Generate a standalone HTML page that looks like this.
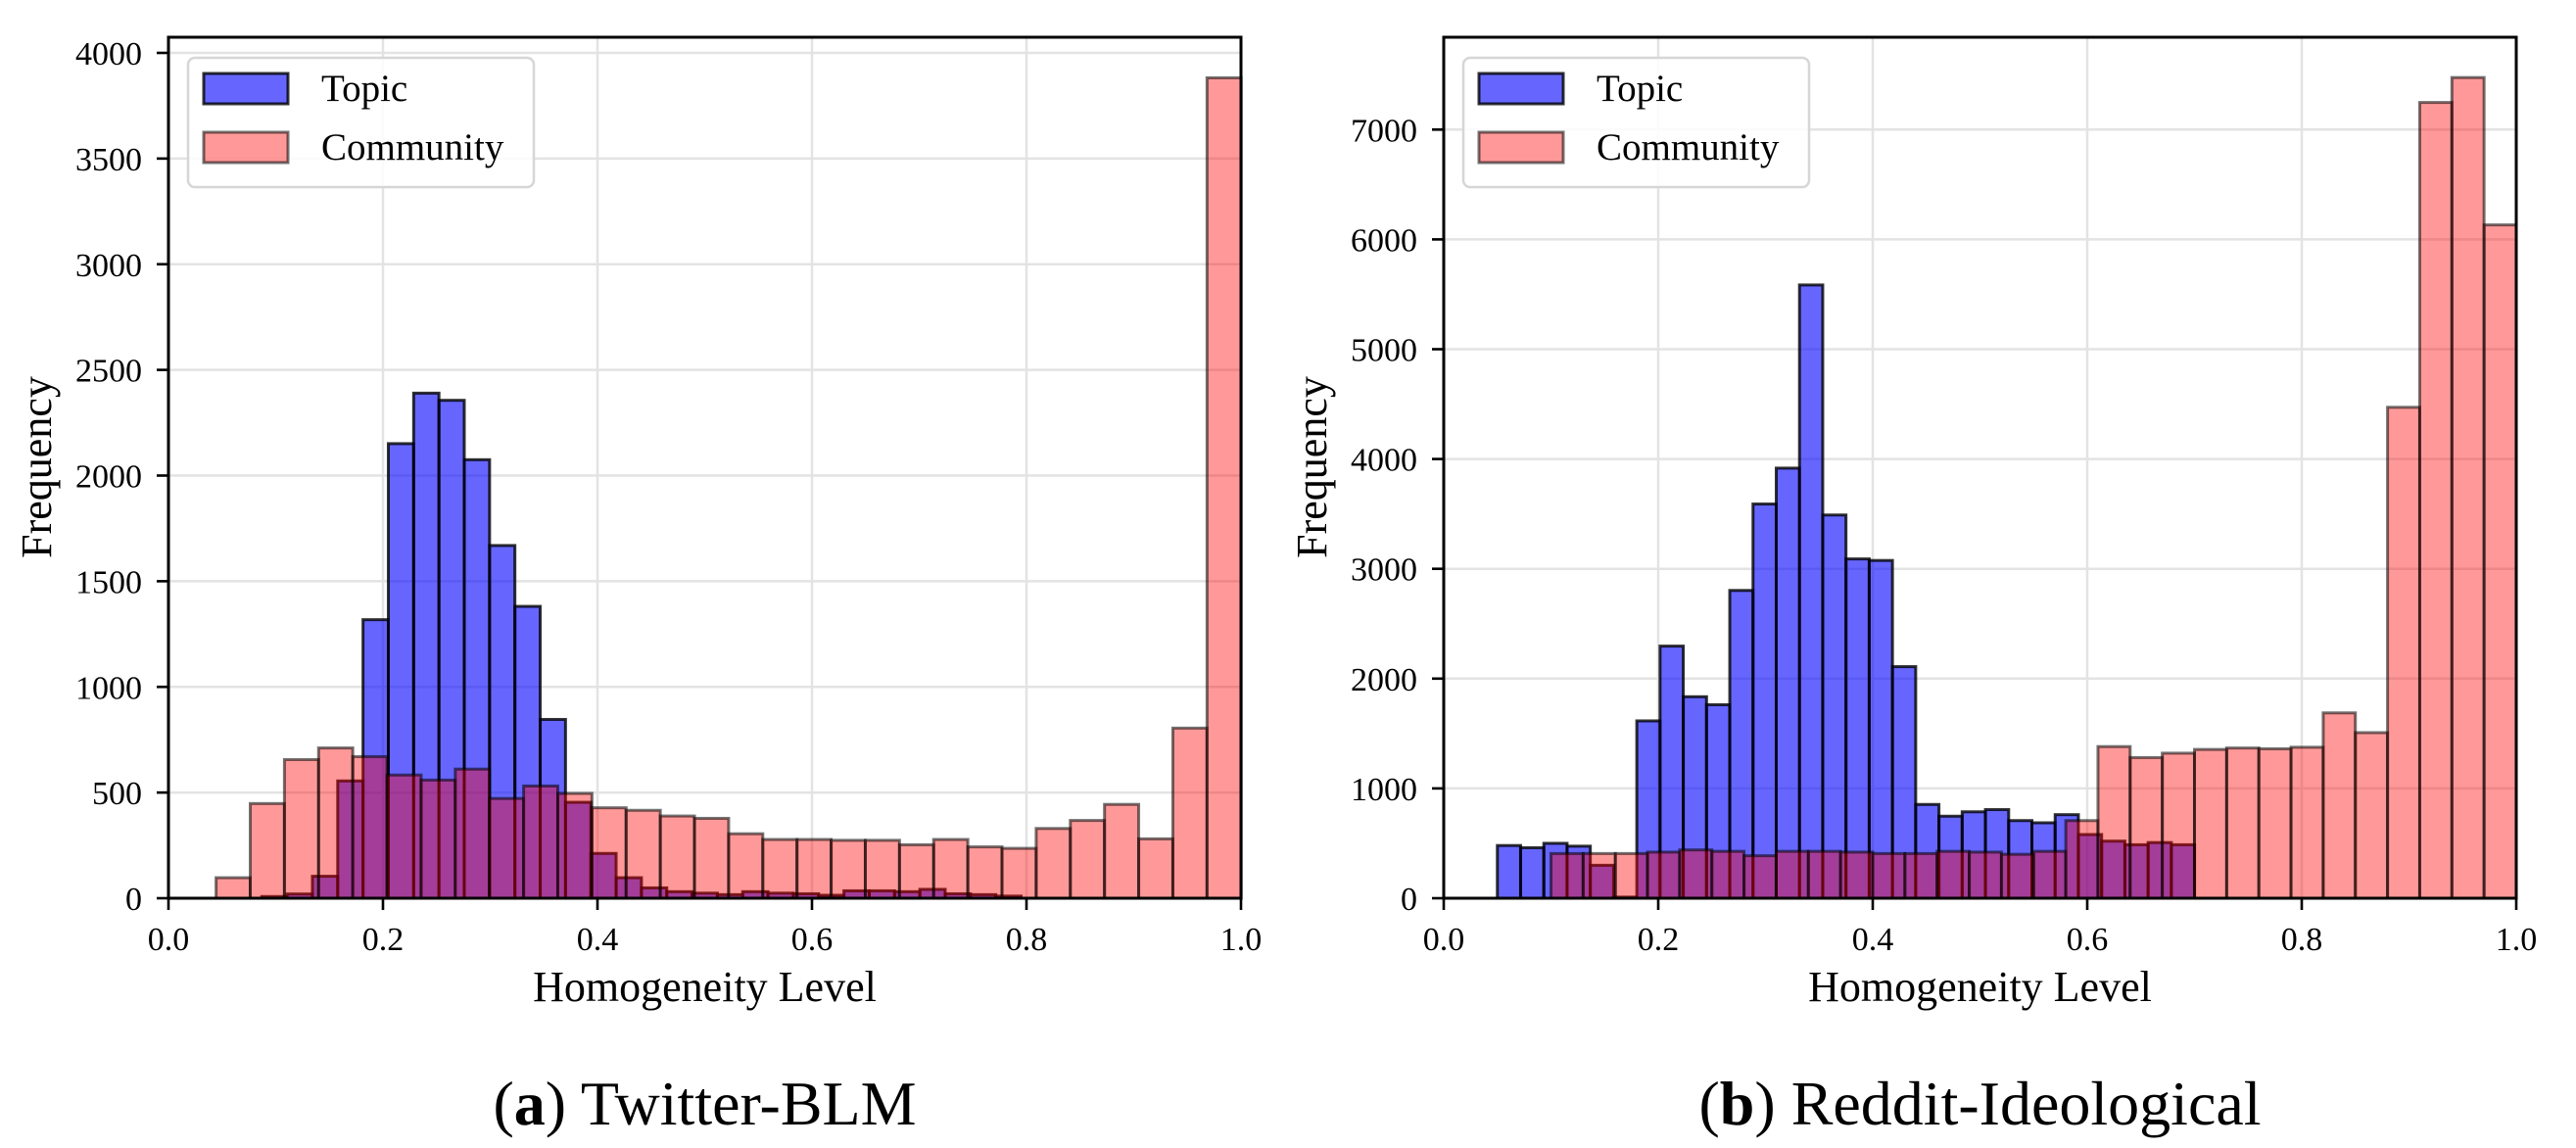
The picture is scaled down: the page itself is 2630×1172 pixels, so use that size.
<!DOCTYPE html>
<html><head><meta charset="utf-8"><style>
html,body{margin:0;padding:0;background:#fff;}
svg{display:block;font-family:"Liberation Serif",serif;}
</style></head><body>
<svg id="svg" width="2630" height="1172" viewBox="0 0 2630 1172" xmlns="http://www.w3.org/2000/svg">
</svg>
<script>
// ---- Panel (a) Twitter-BLM data ----
const blmTopicStart = 0.087;
const blmTopicWidth = 0.0236;
const blmTopic = [8,20,104,555,1318,2151,2390,2356,2075,1669,1381,846,454,212,97,49,31,24,17,31,24,21,14,35,35,31,42,21,17,10];
const blmCommStart = 0.0444;
const blmCommWidth = 0.03186;
const blmComm = [97,448,656,711,670,583,559,611,472,531,496,428,416,389,378,305,278,278,274,274,253,278,243,236,330,368,444,281,805,3882];
const blmYTicks = [0,500,1000,1500,2000,2500,3000,3500,4000];
// ---- Panel (b) Reddit-Ideological data ----
const redTopicStart = 0.05;
const redTopicWidth = 0.02167;
const redTopic = [480,460,500,474,300,10,1615,2296,1835,1762,2803,3590,3917,5585,3490,3090,3076,2109,854,747,787,807,707,687,761,580,520,487,507,487];
const redCommStart = 0.10;
const redCommWidth = 0.03;
const redComm = [407,407,407,420,440,427,387,427,427,420,407,407,427,420,400,427,707,1381,1281,1321,1355,1368,1361,1375,1688,1508,4471,7247,7474,6132];
const redYTicks = [0,1000,2000,3000,4000,5000,6000,7000];
const xTicks = [0,0.2,0.4,0.6,0.8,1.0];

const NS = "http://www.w3.org/2000/svg";
const svg = document.getElementById('svg');
function mk(tag, attrs, parent){
  const e = document.createElementNS(NS, tag);
  for (const k in attrs) e.setAttribute(k, attrs[k]);
  (parent||svg).appendChild(e);
  return e;
}

function panel(cfg){
  const g = mk('g', {});
  
  
  const L = cfg.left, R = cfg.left + 1095, T = 38, B = 917;
  const xs = v => L + v * (R - L);
  const ys = v => B - v * cfg.pxPer;
  xTicks.forEach(t => {
    const l = mk('line', {x1: xs(t), x2: xs(t), y1: T, y2: B, stroke: '#e3e3e3', 'stroke-width': 2.5}, g);
    
    
  });
  cfg.yTicks.forEach(t => {
    const l = mk('line', {x1: L, x2: R, y1: ys(t), y2: ys(t), stroke: '#e3e3e3', 'stroke-width': 2.5}, g);
    
    
  });
  cfg.topic.forEach((v, i) => {
    const x0 = cfg.tStart + i * cfg.tW;
    const r = mk('rect', {x: xs(x0), y: ys(v), width: xs(x0 + cfg.tW) - xs(x0), height: B - ys(v),
      fill: 'rgba(0,0,255,0.6)', stroke: 'rgba(0,0,0,0.8)', 'stroke-width': 3}, g);
    
    
  });
  cfg.comm.forEach((v, i) => {
    const x0 = cfg.cStart + i * cfg.cW;
    const r = mk('rect', {x: xs(x0), y: ys(v), width: xs(x0 + cfg.cW) - xs(x0), height: B - ys(v),
      fill: 'rgba(255,0,0,0.4)', stroke: 'rgba(0,0,0,0.55)', 'stroke-width': 3}, g);
    
    
  });
  const f = mk('rect', {x: L, y: T, width: R - L, height: B - T, fill: 'none', stroke: '#000', 'stroke-width': 3}, g);
  
  
  xTicks.forEach(t => {
    const l = mk('line', {x1: xs(t), x2: xs(t), y1: B, y2: B + 12, stroke: '#000', 'stroke-width': 2.6}, g);
    
    
    const tx = mk('text', {x: xs(t), y: B + 53, 'font-size': 34, 'text-anchor': 'middle', fill: '#000'}, g);
    
    
    tx.textContent = t.toFixed(1);
  });
  cfg.yTicks.forEach(t => {
    const l = mk('line', {x1: L - 12, x2: L, y1: ys(t), y2: ys(t), stroke: '#000', 'stroke-width': 2.6}, g);
    
    
    const tx = mk('text', {x: L - 27, y: ys(t) + 12, 'font-size': 34, 'text-anchor': 'end', fill: '#000'}, g);
    
    
    tx.textContent = String(t);
  });
  const xt = mk('text', {x: (L + R) / 2, y: 1022, 'font-size': 44, 'text-anchor': 'middle', fill: '#000'}, g);
  
  
  xt.textContent = 'Homogeneity Level';
  const yt = mk('text', {x: 0, y: 0, 'font-size': 44, 'text-anchor': 'middle', fill: '#000',
    transform: 'translate(' + (cfg.ylabX) + ',477) rotate(-90)'}, g);
  
  
  yt.textContent = 'Frequency';
  const lg = mk('g', {}, g);
  
  
  const lx = L + 20;
  mk('rect', {x: lx, y: 59, width: 353, height: 132, rx: 7, fill: 'rgba(255,255,255,0.85)', stroke: '#d6d6d6', 'stroke-width': 2.5}, lg);
  const p1 = mk('rect', {x: lx + 16, y: 75, width: 86, height: 31, fill: 'rgba(0,0,255,0.6)', stroke: 'rgba(0,0,0,0.8)', 'stroke-width': 3}, lg);
  
  
  const t1 = mk('text', {x: lx + 136, y: 103, 'font-size': 39, fill: '#000'}, lg);
  
  
  t1.textContent = 'Topic';
  const p2 = mk('rect', {x: lx + 16, y: 135, width: 86, height: 31, fill: 'rgba(255,0,0,0.4)', stroke: 'rgba(0,0,0,0.55)', 'stroke-width': 3}, lg);
  
  
  const t2 = mk('text', {x: lx + 136, y: 163, 'font-size': 39, fill: '#000'}, lg);
  
  
  t2.textContent = 'Community';
  const cp = mk('text', {x: (L + R) / 2, y: 1148, 'font-size': 64, 'text-anchor': 'middle', fill: '#000'}, g);
  
  
  cp.innerHTML = '(<tspan font-weight="bold">' + cfg.letter + '</tspan>) ' + cfg.caption;
}

panel({name: 'panel-twitter-blm', left: 172, pxPer: 215.75 / 1000, yTicks: blmYTicks,
  topic: blmTopic, tStart: blmTopicStart, tW: blmTopicWidth,
  comm: blmComm, cStart: blmCommStart, cW: blmCommWidth,
  ylabX: 52, letter: 'a', caption: 'Twitter-BLM'});
panel({name: 'panel-reddit-ideological', left: 1474, pxPer: 112.1 / 1000, yTicks: redYTicks,
  topic: redTopic, tStart: redTopicStart, tW: redTopicWidth,
  comm: redComm, cStart: redCommStart, cW: redCommWidth,
  ylabX: 1354, letter: 'b', caption: 'Reddit-Ideological'});
</script>
</body></html>
